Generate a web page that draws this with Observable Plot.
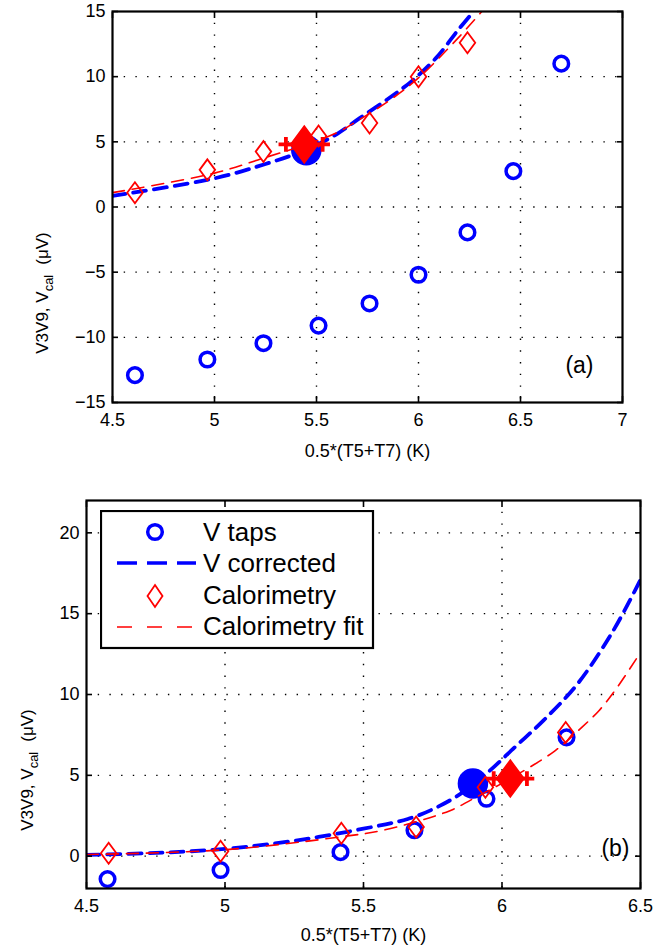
<!DOCTYPE html>
<html>
<head>
<meta charset="utf-8">
<script src="https://cdn.jsdelivr.net/npm/d3@7"></script>
<script src="https://cdn.jsdelivr.net/npm/@observablehq/plot@0.6"></script>
<style>
  html, body { margin: 0; padding: 0; background: white; }
  #wrap { position: relative; width: 668px; height: 949px; font-family: 'Liberation Sans', Arial, sans-serif; }
  #wrap svg { display: block; }
  #legend { position: absolute; left: 100px; top: 510px; }
</style>
</head>
<body>
<div id="wrap"></div>
<script>
// ---------- Panel (a) data ----------
const aTapsX = [4.61, 4.965, 5.24, 5.51, 5.76, 6.0, 6.24, 6.465, 6.70];
const aTapsY = [-12.9, -11.7, -10.45, -9.1, -7.4, -5.2, -1.95, 2.75, 11.0];
const aCalX  = [4.61, 4.965, 5.24, 5.51, 5.76, 6.0, 6.24];
const aCalY  = [1.1, 2.85, 4.25, 5.45, 6.45, 10.0, 12.6];
const aCorrX = [4.5, 5.0, 5.25, 5.45, 5.6, 5.71, 5.86, 5.97, 6.09, 6.19, 6.27];
const aCorrY = [0.85, 2.2, 3.3, 4.4, 5.6, 6.8, 8.4, 9.7, 11.5, 13.5, 15.0];
const aFitX  = [4.5, 5.0, 5.25, 5.45, 5.6, 5.71, 5.86, 6.0, 6.19, 6.31];
const aFitY  = [1.1, 2.6, 3.8, 4.8, 5.7, 6.7, 8.2, 9.9, 12.9, 15.0];
const aBigTap = {x: 5.45, y: 4.35};
const aBigCal = {x: 5.44, y: 4.8, err: 0.09};
const aXTicks = [4.5, 5, 5.5, 6, 6.5, 7];
const aYTicks = [-15, -10, -5, 0, 5, 10, 15];
const aXGrid = [5, 5.5, 6, 6.5];
const aYGrid = [-10, -5, 0, 5, 10];

// ---------- Panel (b) data ----------
const bTapsX = [4.576, 4.984, 5.417, 5.684, 5.944, 6.233];
const bTapsY = [-1.42, -0.86, 0.25, 1.6, 3.55, 7.35];
const bCalX  = [4.58, 4.984, 5.42, 5.69, 5.94, 6.23];
const bCalY  = [0.18, 0.3, 1.42, 1.8, 4.26, 7.65];
const bCorrX = [4.5, 4.75, 5.0, 5.25, 5.5, 5.66, 5.75, 5.85, 5.95, 6.05, 6.15, 6.27, 6.4, 6.5];
const bCorrY = [0.08, 0.2, 0.45, 0.95, 1.7, 2.3, 2.9, 3.85, 5.2, 6.8, 8.4, 10.6, 13.9, 17.1];
const bFitX  = [4.5, 5.0, 5.42, 5.57, 5.81, 5.89, 6.03, 6.19, 6.29, 6.35, 6.41, 6.5];
const bFitY  = [0.1, 0.4, 1.2, 1.6, 2.8, 3.5, 4.8, 6.5, 8.0, 9.0, 10.3, 12.6];
const bBigTap = {x: 5.895, y: 4.5};
const bBigCal = {x: 6.03, y: 4.8, err: 0.06};
const bXTicks = [4.5, 5, 5.5, 6, 6.5];
const bYTicks = [0, 5, 10, 15, 20];
const bXGrid = [5, 5.5, 6];
const bYGrid = [0, 5, 10, 15, 20];

const legendLabels = ["V taps", "V corrected", "Calorimetry", "Calorimetry fit"];
const xTitle = "0.5*(T5+T7) (K)";

const BLUE = "#0000ff", RED = "#ff0000";
const fmt = d => d < 0 ? "\u2212" + Math.abs(d) : String(d);

// tall diamond (MATLAB 'd' marker look)
const tallDiamond = {
  draw(ctx, size) {
    const r = Math.sqrt(size / Math.PI);
    const w = r * 0.74;
    ctx.moveTo(0, -r); ctx.lineTo(w, 0); ctx.lineTo(0, r); ctx.lineTo(-w, 0); ctx.closePath();
  }
};

const zip = (X, Y) => X.map((x, i) => ({x, y: Y[i]}));

function panel(cfg) {
  const taps = zip(cfg.tapsX, cfg.tapsY);
  const cal = zip(cfg.calX, cfg.calY);
  const corr = zip(cfg.corrX, cfg.corrY);
  const fit = zip(cfg.fitX, cfg.fitY);
  const bc = cfg.bigCal;
  const ends = [{x: bc.x - bc.err, y: bc.y}, {x: bc.x + bc.err, y: bc.y}];
  return Plot.plot({
    width: 668, height: cfg.height,
    marginLeft: cfg.ml, marginRight: cfg.mr, marginTop: cfg.mt, marginBottom: cfg.mb,
    x: {domain: cfg.xDomain},
    y: {domain: cfg.yDomain},
    style: {fontFamily: "'Liberation Sans', Arial, sans-serif", fontSize: "18px", background: "white", color: "black", overflow: "visible"},
    marks: [
      Plot.gridX({ticks: cfg.xGrid, stroke: "black", strokeOpacity: 1, strokeWidth: 1.4, strokeDasharray: "1.4,10.3"}),
      Plot.gridY({ticks: cfg.yGrid, stroke: "black", strokeOpacity: 1, strokeWidth: 1.4, strokeDasharray: "1.4,10.3"}),
      Plot.dot(taps, {x: "x", y: "y", r: 7.3, stroke: BLUE, strokeWidth: 3.5, fill: "none"}),
      Plot.dot([cfg.bigTap], {x: "x", y: "y", r: 14.5, fill: BLUE, stroke: BLUE}),
      Plot.line(corr, {x: "x", y: "y", curve: "catmull-rom", stroke: BLUE, strokeWidth: 3.8, strokeDasharray: "13,8", clip: true}),
      Plot.dot(cal, {x: "x", y: "y", r: 10.5, symbol: tallDiamond, stroke: RED, strokeWidth: 1.8, fill: "none"}),
      Plot.line(fit, {x: "x", y: "y", curve: "catmull-rom", stroke: RED, strokeWidth: 1.6, strokeDasharray: "12,8", clip: true}),
      Plot.ruleY([bc], {y: "y", x1: d => d.x - d.err, x2: d => d.x + d.err, stroke: RED, strokeWidth: 3.5}),
      Plot.dot(ends, {x: "x", y: "y", symbol: "plus", r: 4.8, stroke: RED, strokeWidth: 3.8}),
      Plot.dot([bc], {x: "x", y: "y", r: 18.5, symbol: tallDiamond, fill: RED, stroke: RED}),
      Plot.text([cfg.tag], {frameAnchor: "bottom-right", textAnchor: "end", lineAnchor: "middle", dx: cfg.tagDx, dy: cfg.tagDy, fontSize: 23}),
      Plot.text([xTitle], {frameAnchor: "bottom", lineAnchor: "middle", dy: cfg.xTitleDy, fontSize: 18}),
      Plot.axisX({anchor: "bottom", ticks: cfg.xTicks, tickSize: 0, tickPadding: 11, tickFormat: fmt, label: null}),
      Plot.axisY({anchor: "left", ticks: cfg.yTicks, tickSize: 0, tickPadding: 7, tickFormat: fmt, label: null}),
      Plot.axisX({anchor: "bottom", ticks: cfg.xTicks, tickSize: -6, strokeWidth: 1.6, tickFormat: () => "", label: null}),
      Plot.axisX({anchor: "top", ticks: cfg.xTicks, tickSize: -6, strokeWidth: 1.6, tickFormat: () => "", label: null}),
      Plot.axisY({anchor: "left", ticks: cfg.yTicks, tickSize: -6, strokeWidth: 1.6, tickFormat: () => "", label: null}),
      Plot.axisY({anchor: "right", ticks: cfg.yTicks, tickSize: -6, strokeWidth: 1.6, tickFormat: () => "", label: null}),
      Plot.frame({stroke: "black", strokeWidth: 2.2})
    ]
  });
}

function addYLabel(svg, x, y) {
  const t = d3.select(svg).append("text")
    .attr("transform", `translate(${x},${y}) rotate(-90)`)
    .attr("font-size", 17).attr("fill", "black")
    .attr("font-family", "'Liberation Sans', Arial, sans-serif");
  t.append("tspan").text("V3V9, V");
  t.append("tspan").attr("font-size", 13).attr("dy", 5).text("cal");
  t.append("tspan").attr("dy", -5).attr("dx", 10).text("(\u03bcV)");
}

const wrap = document.getElementById("wrap");

const svgA = panel({
  height: 470, ml: 112, mr: 46, mt: 11, mb: 68,
  xDomain: [4.5, 7], yDomain: [-15, 15],
  tapsX: aTapsX, tapsY: aTapsY, calX: aCalX, calY: aCalY,
  corrX: aCorrX, corrY: aCorrY, fitX: aFitX, fitY: aFitY,
  bigTap: aBigTap, bigCal: aBigCal,
  xTicks: aXTicks, yTicks: aYTicks, xGrid: aXGrid, yGrid: aYGrid,
  tag: "(a)", tagDx: -29, tagDy: -37, xTitleDy: 49
});
addYLabel(svgA, 48, 293);
wrap.appendChild(svgA);

const svgB = panel({
  height: 479, ml: 86, mr: 28, mt: 30, mb: 61,
  xDomain: [4.5, 6.5], yDomain: [-2, 22],
  tapsX: bTapsX, tapsY: bTapsY, calX: bCalX, calY: bCalY,
  corrX: bCorrX, corrY: bCorrY, fitX: bFitX, fitY: bFitY,
  bigTap: bBigTap, bigCal: bBigCal,
  xTicks: bXTicks, yTicks: bYTicks, xGrid: bXGrid, yGrid: bYGrid,
  tag: "(b)", tagDx: -11, tagDy: -40, xTitleDy: 47
});
addYLabel(svgB, 33, 300);
wrap.appendChild(svgB);

// ---------- Legend (panel b) ----------
const lg = d3.select(wrap).append("svg").attr("id", "legend")
  .attr("width", 275).attr("height", 140);
lg.append("rect").attr("x", 1).attr("y", 1).attr("width", 272).attr("height", 137)
  .attr("fill", "white").attr("stroke", "black").attr("stroke-width", 2.2);
const rowsY = [22, 53, 86, 117];
const baseY = [31, 62, 94, 125];
lg.append("circle").attr("cx", 55).attr("cy", rowsY[0]).attr("r", 7.3)
  .attr("fill", "none").attr("stroke", BLUE).attr("stroke-width", 3.5);
lg.append("line").attr("x1", 17).attr("x2", 96).attr("y1", rowsY[1]).attr("y2", rowsY[1])
  .attr("stroke", BLUE).attr("stroke-width", 3.6).attr("stroke-dasharray", "20,10");
lg.append("path").attr("d", `M55,${rowsY[2]-11}L62.5,${rowsY[2]}L55,${rowsY[2]+11}L47.5,${rowsY[2]}Z`)
  .attr("fill", "none").attr("stroke", RED).attr("stroke-width", 1.8);
lg.append("line").attr("x1", 17).attr("x2", 96).attr("y1", rowsY[3]).attr("y2", rowsY[3])
  .attr("stroke", RED).attr("stroke-width", 1.6).attr("stroke-dasharray", "15,15");
legendLabels.forEach((s, i) => {
  lg.append("text").attr("x", 103).attr("y", baseY[i]).attr("font-size", 26)
    .attr("font-family", "'Liberation Sans', Arial, sans-serif").attr("fill", "black").text(s);
});
</script>
</body>
</html>
